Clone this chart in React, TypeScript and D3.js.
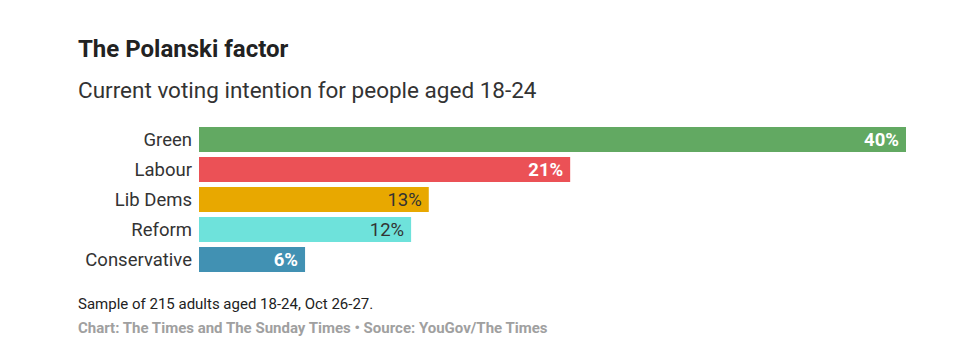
import React, { useEffect, useRef } from 'react';
import { select, scaleLinear, scaleBand } from 'd3';

const parties = ['Green', 'Labour', 'Lib Dems', 'Reform', 'Conservative'];
const shares = [40, 21, 13, 12, 6];
const barColors = ['#62a962', '#eb5156', '#e8a800', '#6ee2db', '#4191b3'];
const labelColors = ['#ffffff', '#ffffff', '#333333', '#333333', '#ffffff'];

const W = 972;
const H = 363;

export default function App() {
  const svgRef = useRef<SVGSVGElement>(null);

  useEffect(() => {
    if (!svgRef.current) return;
    const svg = select(svgRef.current);
    svg.selectAll('*').remove();

    const font = 'Roboto, sans-serif';

    svg.append('text')
      .attr('x', 78).attr('y', 57)
      .attr('font-family', font).attr('font-weight', 700).attr('font-size', 24)
      .attr('fill', '#222')
      .text('The Polanski factor');

    svg.append('text')
      .attr('x', 78).attr('y', 98)
      .attr('font-family', font).attr('font-size', 22.5)
      .attr('fill', '#333')
      .text('Current voting intention for people aged 18-24');

    const data = parties.map((p, i) => ({ party: p, value: shares[i], color: barColors[i], lc: labelColors[i] }));

    const x = scaleLinear().domain([0, 40]).range([199, 906]);
    const y = scaleBand().domain(parties).range([127, 272]).paddingInner(1 / 6).paddingOuter(0);

    const g = svg.append('g');

    g.selectAll('rect.bar')
      .data(data)
      .enter()
      .append('rect')
      .attr('class', 'bar')
      .attr('x', x(0))
      .attr('y', d => y(d.party) || 0)
      .attr('width', d => x(d.value) - x(0))
      .attr('height', y.bandwidth())
      .attr('fill', d => d.color);

    g.selectAll('text.cat')
      .data(data)
      .enter()
      .append('text')
      .attr('class', 'cat')
      .attr('x', 192)
      .attr('y', d => (y(d.party) || 0) + y.bandwidth() / 2)
      .attr('dy', '0.35em')
      .attr('text-anchor', 'end')
      .attr('font-family', font).attr('font-size', 18.5)
      .attr('fill', '#333')
      .text(d => d.party);

    g.selectAll('text.val')
      .data(data)
      .enter()
      .append('text')
      .attr('class', 'val')
      .attr('x', d => x(d.value) - 7)
      .attr('y', d => (y(d.party) || 0) + y.bandwidth() / 2)
      .attr('dy', '0.35em')
      .attr('text-anchor', 'end')
      .attr('font-family', font).attr('font-size', 18.5)
      .attr('font-weight', d => (d.lc === '#ffffff' ? 700 : 400))
      .attr('fill', d => d.lc)
      .text(d => `${d.value}%`);

    svg.append('text')
      .attr('x', 78).attr('y', 309)
      .attr('font-family', font).attr('font-size', 15)
      .attr('fill', '#222')
      .text('Sample of 215 adults aged 18-24, Oct 26-27.');

    svg.append('text')
      .attr('x', 78).attr('y', 333)
      .attr('font-family', font).attr('font-size', 15).attr('font-weight', 700)
      .attr('fill', '#a0a0a0')
      .text('Chart: The Times and The Sunday Times • Source: YouGov/The Times');
  }, []);

  return (
    <div style={{ margin: -8, width: W, height: H, background: '#fff' }}>
      <svg ref={svgRef} width={W} height={H} />
    </div>
  );
}
